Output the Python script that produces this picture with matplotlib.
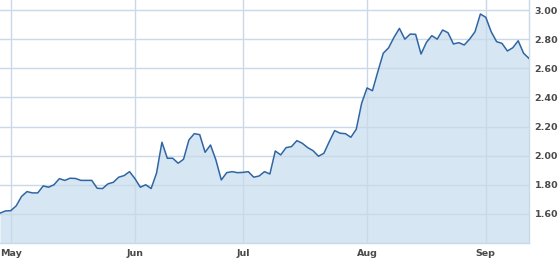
"""Stock price area chart, May - Sep (weekday index axis)."""

import matplotlib
matplotlib.use('Agg')
import matplotlib.pyplot as plt
import numpy as np
import pandas as pd

START_DATE = '2013-04-29'
PRICES = [
    1.605, 1.62, 1.622, 1.655, 1.72, 1.753, 1.744, 1.744, 1.792, 1.783,
    1.80, 1.842, 1.83, 1.845, 1.843, 1.83, 1.83, 1.83, 1.776, 1.774,
    1.806, 1.817, 1.852, 1.863, 1.89, 1.842, 1.783, 1.80, 1.774, 1.88,
    2.092, 1.982, 1.982, 1.948, 1.975, 2.108, 2.151, 2.144, 2.023, 2.073,
    1.97, 1.833, 1.883, 1.89, 1.883, 1.885, 1.89, 1.852, 1.86, 1.89,
    1.874, 2.032, 2.005, 2.055, 2.062, 2.103, 2.085, 2.055, 2.034, 1.996,
    2.016, 2.096, 2.172, 2.154, 2.151, 2.126, 2.181, 2.36, 2.465, 2.446,
    2.577, 2.703, 2.741, 2.813, 2.874, 2.80, 2.835, 2.833, 2.698, 2.778,
    2.824, 2.80, 2.863, 2.844, 2.767, 2.776, 2.76, 2.80, 2.851, 2.973,
    2.95, 2.851, 2.783, 2.771, 2.719, 2.741, 2.789, 2.703, 2.668,
]
Y_TICKS = [1.40, 1.60, 1.80, 2.00, 2.20, 2.40, 2.60, 2.80, 3.00]

LINE_COLOR = '#2f65a3'
FILL_COLOR = '#d6e6f2'
GRID_COLOR = '#c9d9e7'
LABEL_COLOR = '#4a4a4a'


def main():
    dates = pd.bdate_range(START_DATE, periods=len(PRICES))
    x = np.arange(len(PRICES))
    month_idx = [i for i in range(1, len(dates))
                 if dates[i].month != dates[i - 1].month]
    month_labels = [dates[i].strftime('%b') for i in month_idx]

    fig = plt.figure(figsize=(5.58, 2.66), dpi=100)
    ax = fig.add_axes([0.0, 0.0865, 0.948, 0.9135])

    ax.fill_between(x, PRICES, 1.40, color=FILL_COLOR, linewidth=0, zorder=1)
    ax.plot(x, PRICES, color=LINE_COLOR, linewidth=1.1, zorder=3)

    ax.set_xlim(0, len(PRICES) - 1)
    ax.set_ylim(1.40, 3.069)

    ax.set_yticks(Y_TICKS)
    ax.set_yticklabels(['' if v == 1.40 else f'{v:.2f}' for v in Y_TICKS])
    ax.set_xticks(month_idx)
    ax.set_xticklabels(month_labels)

    ax.yaxis.tick_right()
    ax.tick_params(axis='both', length=0, labelsize=6.8,
                   labelcolor=LABEL_COLOR)
    ax.tick_params(axis='y', pad=4)
    ax.tick_params(axis='x', pad=4)
    for label in ax.get_xticklabels() + ax.get_yticklabels():
        label.set_fontweight('bold')

    ax.grid(True, color=GRID_COLOR, linewidth=1.0, zorder=2)
    ax.set_axisbelow(False)
    for side in ('top', 'left'):
        ax.spines[side].set_visible(False)
    for side in ('bottom', 'right'):
        ax.spines[side].set_color(GRID_COLOR)
        ax.spines[side].set_linewidth(1.0)

    fig.savefig('out.png', dpi=100)


if __name__ == '__main__':
    main()
